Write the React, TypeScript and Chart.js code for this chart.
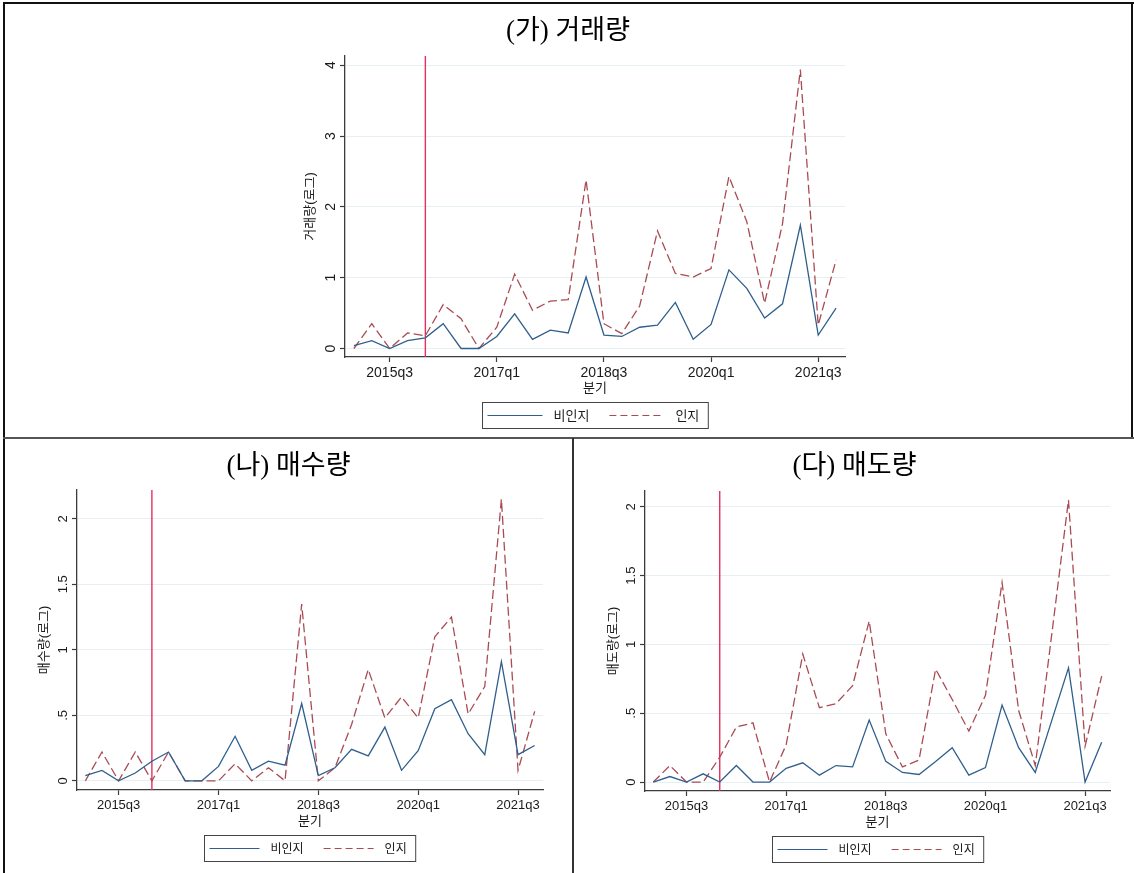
import React, { useEffect, useRef } from 'react';
import { Chart, registerables } from 'chart.js';

Chart.register(...registerables);

// ---------- data ----------
const quarters = [
  '2015q1', '2015q2', '2015q3', '2015q4',
  '2016q1', '2016q2', '2016q3', '2016q4',
  '2017q1', '2017q2', '2017q3', '2017q4',
  '2018q1', '2018q2', '2018q3', '2018q4',
  '2019q1', '2019q2', '2019q3', '2019q4',
  '2020q1', '2020q2', '2020q3', '2020q4',
  '2021q1', '2021q2', '2021q3', '2021q4',
];
const xTickLabels = ['2015q3', '2017q1', '2018q3', '2020q1', '2021q3'];
const eventQuarter = '2016q1';
const seriesNames = ['비인지', '인지'];
const xTitle = '분기';

const panelTitles = ['(가) 거래량', '(나) 매수량', '(다) 매도량'];
const yTitles = ['거래량(로그)', '매수량(로그)', '매도량(로그)'];

// (가) 거래량
const tradeNonAware = [0.04, 0.11, 0.0, 0.11, 0.15, 0.35, 0.0, 0.0, 0.17, 0.49, 0.13, 0.26, 0.22, 1.01, 0.19, 0.17, 0.3, 0.33, 0.65, 0.13, 0.34, 1.11, 0.85, 0.43, 0.63, 1.74, 0.19, 0.57];
const tradeAware = [0.0, 0.35, 0.0, 0.22, 0.18, 0.62, 0.42, 0.0, 0.3, 1.05, 0.54, 0.67, 0.69, 2.38, 0.35, 0.21, 0.6, 1.66, 1.06, 1.01, 1.13, 2.43, 1.79, 0.64, 1.76, 3.94, 0.33, 1.25];

// (나) 매수량
const buyNonAware = [0.04, 0.08, 0.0, 0.06, 0.15, 0.22, 0.0, 0.0, 0.11, 0.34, 0.08, 0.15, 0.12, 0.59, 0.04, 0.1, 0.24, 0.19, 0.41, 0.08, 0.23, 0.55, 0.62, 0.36, 0.2, 0.91, 0.2, 0.27];
const buyAware = [0.0, 0.22, 0.0, 0.22, 0.0, 0.22, 0.0, 0.0, 0.0, 0.13, 0.0, 0.1, 0.0, 1.35, 0.0, 0.1, 0.43, 0.85, 0.48, 0.64, 0.48, 1.1, 1.25, 0.51, 0.72, 2.15, 0.08, 0.53];

// (다) 매도량
const sellNonAware = [0.0, 0.04, 0.0, 0.06, 0.0, 0.12, 0.0, 0.0, 0.1, 0.14, 0.05, 0.12, 0.11, 0.45, 0.15, 0.07, 0.055, 0.15, 0.25, 0.05, 0.105, 0.56, 0.25, 0.07, 0.45, 0.83, 0.0, 0.29];
const sellAware = [0.0, 0.12, 0.0, 0.0, 0.18, 0.4, 0.43, 0.0, 0.27, 0.93, 0.54, 0.57, 0.7, 1.17, 0.35, 0.11, 0.16, 0.82, 0.6, 0.37, 0.63, 1.45, 0.52, 0.12, 1.08, 2.05, 0.26, 0.77];

const tradeYTicks = [0, 1, 2, 3, 4];
const tradeYTickLabels = ['0', '1', '2', '3', '4'];
const halfYTicks = [0, 0.5, 1, 1.5, 2];
const halfYTickLabels = ['0', '.5', '1', '1.5', '2'];

// ---------- style ----------
const FONT = '"Liberation Sans", "Noto Sans CJK KR", sans-serif';
const TITLE_FONT = '"Liberation Serif", "Noto Sans CJK KR", serif';
const NAVY = '#2f5f8c';
const MAROON = '#a94b53';
const EVENT = '#e3305f';
const GRID = '#e6eff1';
const AXIS = '#3c3c3c';
const TEXT = '#1a1a1a';

type Box = { left: number; top: number; width: number; height: number };
type Area = { left: number; right: number; top: number; bottom: number };

type PanelProps = {
  title: string;
  yTitle: string;
  nonAware: number[];
  aware: number[];
  yTicks: number[];
  yTickLabels: string[];
  yMin: number;
  yMax: number;
  box: Box;
  area: Area;
  yAxisW: number;
  tickFont: number;
  legendFont: number;
  sampleLen: number;
  titleCenterY: number;
};

function Panel(p: PanelProps) {
  const ref = useRef<HTMLCanvasElement | null>(null);

  useEffect(() => {
    const canvas = ref.current;
    if (!canvas) return;
    const X_AXIS_H = 39;
    const LEGEND_OFFSET = 45;
    const LEGEND_H = 26;

    const eventLine = {
      id: 'eventLine',
      beforeDatasetsDraw(chart: any) {
        const { ctx, chartArea, scales } = chart;
        const x = scales.x.getPixelForValue(quarters.indexOf(eventQuarter));
        ctx.save();
        ctx.strokeStyle = EVENT;
        ctx.lineWidth = 1.4;
        ctx.beginPath();
        ctx.moveTo(x, chartArea.top);
        ctx.lineTo(x, chartArea.bottom);
        ctx.stroke();
        ctx.restore();
      },
    };

    const yLabels = {
      id: 'yRotLabels',
      afterDraw(chart: any) {
        const { ctx, chartArea, scales } = chart;
        ctx.save();
        ctx.fillStyle = TEXT;
        ctx.font = `${p.tickFont}px ${FONT}`;
        ctx.textAlign = 'center';
        ctx.textBaseline = 'alphabetic';
        p.yTicks.forEach((v, i) => {
          const y = scales.y.getPixelForValue(v);
          ctx.save();
          ctx.translate(chartArea.left - 10, y);
          ctx.rotate(-Math.PI / 2);
          ctx.fillText(p.yTickLabels[i], 0, 0);
          ctx.restore();
        });
        ctx.restore();
      },
    };

    const boxedLegend = {
      id: 'boxedLegend',
      afterDraw(chart: any) {
        const { ctx, chartArea } = chart;
        const ds = chart.data.datasets;
        ctx.save();
        ctx.font = `${p.legendFont}px ${FONT}`;
        const pad = 5;
        const gapText = 11;
        const gapItem = 20;
        const padR = 9;
        const widths = ds.map((d: any) => ctx.measureText(d.label).width);
        let total = pad + padR + gapItem * (ds.length - 1);
        ds.forEach((_d: any, i: number) => {
          total += p.sampleLen + gapText + widths[i];
        });
        const cx = (chartArea.left + chartArea.right) / 2;
        const x0 = Math.round(cx - total / 2) + 0.5;
        const y0 = Math.round(chartArea.bottom + LEGEND_OFFSET) + 0.5;
        ctx.fillStyle = '#ffffff';
        ctx.fillRect(x0, y0, total, LEGEND_H);
        ctx.strokeStyle = '#444444';
        ctx.lineWidth = 1;
        ctx.strokeRect(x0, y0, total, LEGEND_H);
        let x = x0 + pad;
        const ym = y0 + LEGEND_H / 2;
        ds.forEach((d: any, i: number) => {
          ctx.beginPath();
          ctx.setLineDash(d.borderDash ? [7, 4] : []);
          ctx.strokeStyle = d.borderColor;
          ctx.lineWidth = 1.2;
          ctx.moveTo(x, ym);
          ctx.lineTo(x + p.sampleLen, ym);
          ctx.stroke();
          ctx.setLineDash([]);
          x += p.sampleLen + gapText;
          ctx.fillStyle = TEXT;
          ctx.textAlign = 'left';
          ctx.textBaseline = 'middle';
          ctx.fillText(d.label, x, ym + 1);
          x += widths[i] + gapItem;
        });
        ctx.restore();
      },
    };

    const chart = new Chart(canvas, {
      type: 'line',
      data: {
        labels: quarters,
        datasets: [
          {
            label: seriesNames[0],
            data: p.nonAware,
            borderColor: NAVY,
            borderWidth: 1.3,
            pointRadius: 0,
            tension: 0,
            fill: false,
          },
          {
            label: seriesNames[1],
            data: p.aware,
            borderColor: MAROON,
            borderWidth: 1.3,
            borderDash: [9, 4],
            pointRadius: 0,
            tension: 0,
            fill: false,
          },
        ],
      },
      options: {
        responsive: false,
        animation: false,
        devicePixelRatio: 1,
        events: [],
        layout: {
          padding: {
            left: p.area.left - p.box.left - p.yAxisW,
            right: p.box.left + p.box.width - p.area.right,
            top: p.area.top - p.box.top,
            bottom: p.box.top + p.box.height - p.area.bottom - X_AXIS_H,
          },
        },
        plugins: {
          legend: { display: false },
          title: { display: false },
          tooltip: { enabled: false },
        },
        scales: {
          x: {
            type: 'category',
            offset: true,
            grid: { drawOnChartArea: false, tickLength: 5, tickColor: AXIS, tickWidth: 1.2, offset: false },
            border: { color: AXIS, width: 1.3 },
            ticks: {
              autoSkip: false,
              maxRotation: 0,
              minRotation: 0,
              padding: 3,
              color: TEXT,
              font: { family: FONT, size: p.tickFont },
            },
            afterBuildTicks: (s: any) => {
              s.ticks = s.ticks.filter((t: any) => xTickLabels.includes(quarters[t.value]));
            },
            afterFit: (s: any) => {
              s.height = X_AXIS_H;
            },
            title: {
              display: true,
              text: xTitle,
              color: TEXT,
              font: { family: FONT, size: 13 },
              padding: 0,
            },
          },
          y: {
            type: 'linear',
            min: p.yMin,
            max: p.yMax,
            afterBuildTicks: (s: any) => {
              s.ticks = p.yTicks.map((v) => ({ value: v }));
            },
            afterFit: (s: any) => {
              s.width = p.yAxisW;
            },
            ticks: { display: false },
            grid: { color: GRID, lineWidth: 1, tickLength: 5, tickColor: AXIS, tickWidth: 1.2, drawTicks: true },
            border: { color: AXIS, width: 1.3 },
            title: {
              display: true,
              text: p.yTitle,
              color: TEXT,
              font: { family: FONT, size: 13 },
              padding: 0,
            },
          },
        },
      } as any,
      plugins: [eventLine, yLabels, boxedLegend],
    });
    return () => chart.destroy();
  }, []);

  return (
    <>
      <canvas
        ref={ref}
        width={p.box.width}
        height={p.box.height}
        style={{
          position: 'absolute',
          left: p.box.left,
          top: p.box.top,
          width: p.box.width,
          height: p.box.height,
        }}
      />
      <div
        style={{
          position: 'absolute',
          left: p.box.left,
          width: p.box.width,
          top: p.titleCenterY - 16,
          height: 32,
          lineHeight: '32px',
          textAlign: 'center',
          fontFamily: TITLE_FONT,
          fontSize: 27,
          color: '#000',
          whiteSpace: 'nowrap',
        }}
      >
        {p.title}
      </div>
    </>
  );
}

const line = (left: number, top: number, width: number, height: number, color: string) => (
  <div style={{ position: 'absolute', left, top, width, height, background: color }} />
);

export default function App() {
  return (
    <div
      style={{
        position: 'absolute',
        left: 0,
        top: 0,
        width: 1134,
        height: 873,
        background: '#fff',
        overflow: 'hidden',
      }}
    >
      <Panel
        title={panelTitles[0]}
        yTitle={yTitles[0]}
        nonAware={tradeNonAware}
        aware={tradeAware}
        yTicks={tradeYTicks}
        yTickLabels={tradeYTickLabels}
        yMin={-0.12}
        yMax={4.13}
        box={{ left: 6, top: 5, width: 1124, height: 432 }}
        area={{ left: 345, right: 845, top: 56, bottom: 357 }}
        yAxisW={42}
        tickFont={14}
        legendFont={13}
        sampleLen={55}
        titleCenterY={30}
      />
      <Panel
        title={panelTitles[1]}
        yTitle={yTitles[1]}
        nonAware={buyNonAware}
        aware={buyAware}
        yTicks={halfYTicks}
        yTickLabels={halfYTickLabels}
        yMin={-0.07}
        yMax={2.22}
        box={{ left: 6, top: 441, width: 565, height: 432 }}
        area={{ left: 77, right: 543, top: 490, bottom: 790 }}
        yAxisW={40}
        tickFont={13}
        legendFont={12}
        sampleLen={50}
        titleCenterY={465}
      />
      <Panel
        title={panelTitles[2]}
        yTitle={yTitles[2]}
        nonAware={sellNonAware}
        aware={sellAware}
        yTicks={halfYTicks}
        yTickLabels={halfYTickLabels}
        yMin={-0.065}
        yMax={2.115}
        box={{ left: 575, top: 441, width: 559, height: 432 }}
        area={{ left: 645, right: 1110, top: 491, bottom: 791 }}
        yAxisW={39}
        tickFont={13}
        legendFont={12}
        sampleLen={50}
        titleCenterY={465}
      />
      {line(3, 2, 1131, 2, '#111')}
      {line(3, 2, 2, 871, '#111')}
      {line(1131, 2, 2, 437, '#111')}
      {line(3, 437, 1131, 2, '#555')}
      {line(572, 438, 2, 435, '#333')}
    </div>
  );
}
